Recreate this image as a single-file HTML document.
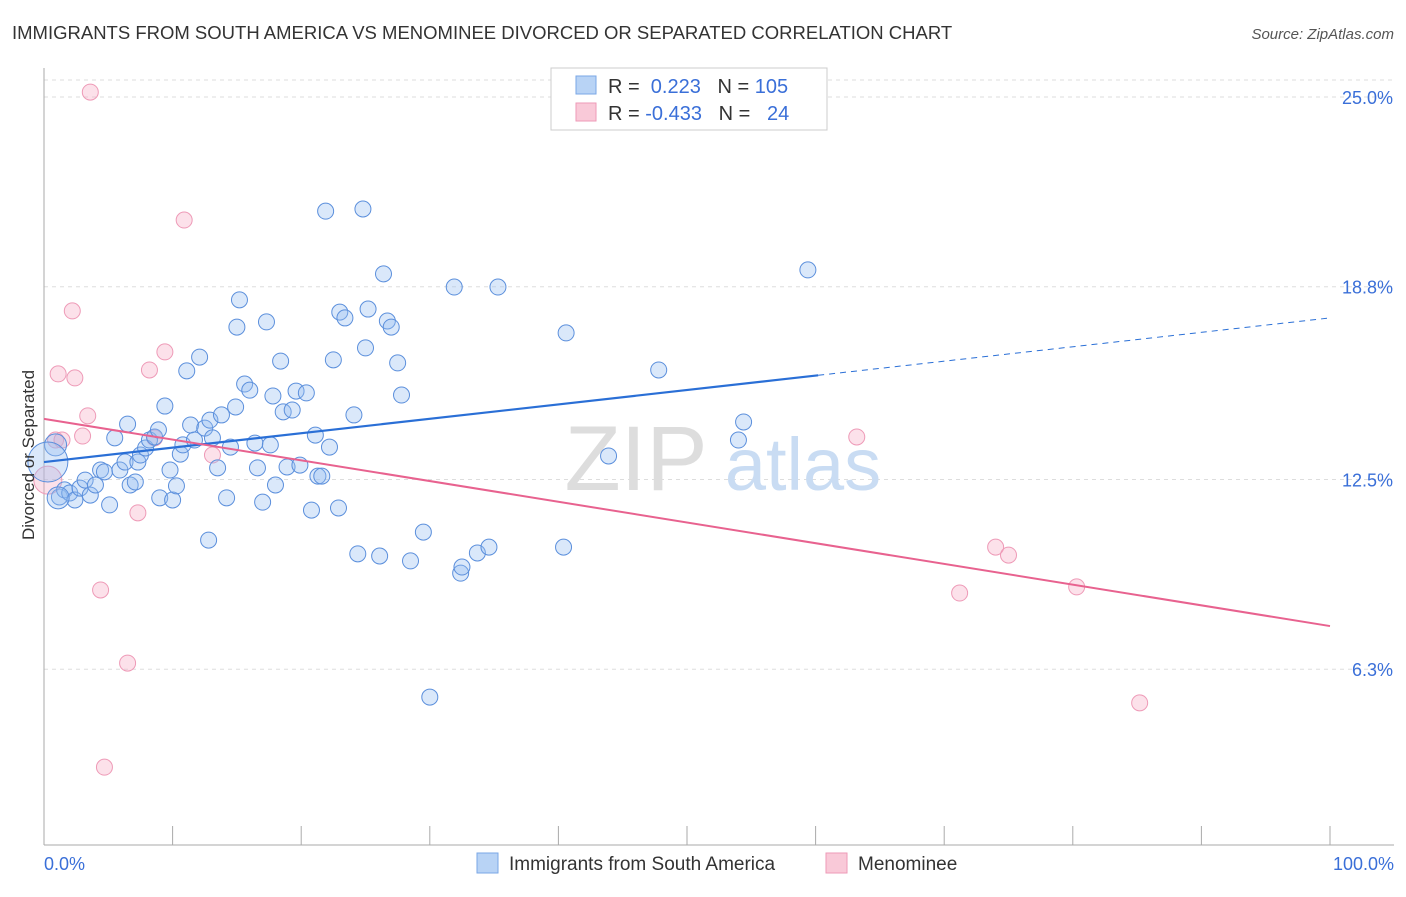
<!DOCTYPE html>
<html><head><meta charset="utf-8">
<style>
body{margin:0;background:#fff;font-family:"Liberation Sans",sans-serif;}
svg text{font-family:"Liberation Sans",sans-serif;}
</style></head>
<body>
<svg width="1406" height="892" xmlns="http://www.w3.org/2000/svg">
<text x="12" y="39" font-size="18.5" fill="#333">IMMIGRANTS FROM SOUTH AMERICA VS MENOMINEE DIVORCED OR SEPARATED CORRELATION CHART</text>
<text x="1394" y="39" font-size="15" fill="#555" text-anchor="end" font-style="italic">Source: ZipAtlas.com</text>
<g id="grid"></g>
<g id="wm">
<text x="636" y="490" font-size="92" fill="#ddd" text-anchor="middle" font-family="Liberation Serif">ZIP</text>
<text x="803" y="490" font-size="74" fill="#c9dcf3" text-anchor="middle">atlas</text>
</g>
<g id="axes"></g>
<g id="pts"></g>
<g id="lines"></g>
<text x="34" y="455" font-size="17" fill="#333" text-anchor="middle" transform="rotate(-90 34 455)">Divorced or Separated</text>
<text x="44" y="870" font-size="18" fill="#3a6fd8">0.0%</text>
<text x="1394" y="870" font-size="18" fill="#3a6fd8" text-anchor="end">100.0%</text>
<g>
<rect x="551" y="68" width="276" height="62" fill="#fff" stroke="#ccc"/>
<rect x="576" y="76" width="20" height="18" fill="#b8d3f5" stroke="#7aa7e6"/>
<rect x="576" y="103" width="20" height="18" fill="#f9c9d8" stroke="#ee9ab7"/>
<text x="608" y="93" font-size="20" fill="#333">R = <tspan fill="#3a6fd8">&#160;0.223</tspan>&#160;&#160;&#160;N = <tspan fill="#3a6fd8">105</tspan></text>
<text x="608" y="120" font-size="20" fill="#333">R = <tspan fill="#3a6fd8">-0.433</tspan>&#160;&#160;&#160;N = <tspan fill="#3a6fd8">&#160;&#160;24</tspan></text>
</g>
<g>
<rect x="477" y="853" width="21" height="20" fill="#b8d3f5" stroke="#7aa7e6"/>
<text x="509" y="870" font-size="19" fill="#333">Immigrants from South America</text>
<rect x="826" y="853" width="21" height="20" fill="#f9c9d8" stroke="#ee9ab7"/>
<text x="858" y="870" font-size="19" fill="#333">Menominee</text>
</g>
</svg>
<script>
const yTicks=[25.0,18.8,12.5,6.3];
const yTickLabels=["25.0%","18.8%","12.5%","6.3%"];
const blueX=[1.2,1.6,2.0,2.4,2.8,3.2,3.6,4.0,4.4,4.7,5.1,5.5,5.9,6.3,6.5,6.7,7.1,7.3,7.5,7.9,8.2,8.6,8.9,9.0,9.4,9.8,10.0,10.3,10.6,10.8,11.1,11.4,11.7,12.1,12.5,12.8,12.9,13.1,13.5,13.8,14.2,14.5,14.9,15.0,15.2,15.6,16.0,16.4,16.6,17.0,17.3,17.6,17.8,18.0,18.4,18.6,18.9,19.3,19.6,19.9,20.4,20.8,21.1,21.3,21.6,21.9,22.2,22.5,22.9,23.0,23.4,24.1,24.4,24.8,25.0,25.2,26.1,26.4,26.7,27.0,27.5,27.8,28.5,29.5,30.0,31.9,32.4,32.5,33.7,34.6,35.3,40.4,40.6,43.9,47.8,54.0,54.4,59.4,0.9,0.3,1.1];
const blueY=[11.93,12.16,12.06,11.83,12.22,12.48,11.99,12.32,12.81,12.75,11.67,13.86,12.81,13.07,14.31,12.32,12.42,13.07,13.30,13.53,13.79,13.89,14.12,11.90,14.90,12.81,11.83,12.29,13.33,13.63,16.05,14.28,13.79,16.50,14.18,10.52,14.44,13.86,12.88,14.61,11.90,13.56,14.87,17.48,18.37,15.62,15.42,13.69,12.88,11.76,17.65,13.63,15.23,12.32,16.37,14.71,12.91,14.77,15.39,12.97,15.33,11.50,13.95,12.61,12.61,21.27,13.56,16.41,11.57,17.97,17.78,14.61,10.07,21.34,16.80,18.07,10.00,19.22,17.68,17.48,16.31,15.26,9.84,10.78,5.39,18.79,9.44,9.64,10.10,10.29,18.79,10.29,17.29,13.27,16.08,13.79,14.38,19.35,13.63,13.07,11.90];
const pinkX=[3.6,10.9,2.2,1.1,2.4,8.2,9.4,3.4,3.0,0.9,1.4,13.1,8.6,7.3,4.4,6.5,4.7,63.2,74.0,75.0,71.2,80.3,85.2,0.3];
const pinkY=[25.16,20.98,18.01,15.95,15.82,16.08,16.67,14.58,13.92,13.79,13.79,13.30,13.86,11.41,8.89,6.50,3.10,13.89,10.29,10.03,8.79,8.99,5.20,12.48];
const blueTrend=[13.07,17.78];
const blueSolidEnd=60.2;
const pinkTrend=[14.48,7.71];

const NS="http://www.w3.org/2000/svg";
const X=v=>44+v*12.86;
const Y=v=>97+(25-v)*30.6;
function mk(tag,attrs,parent){const e=document.createElementNS(NS,tag);for(const k in attrs)e.setAttribute(k,attrs[k]);parent.appendChild(e);return e;}
const grid=document.getElementById('grid'),axes=document.getElementById('axes'),pts=document.getElementById('pts'),lines=document.getElementById('lines');
const gridTop=mk('line',{x1:44,x2:1394,y1:80,y2:80,stroke:'#ddd','stroke-dasharray':'4,4'},grid);


yTicks.forEach((t,i)=>{
  const l=mk('line',{x1:44,x2:1394,y1:Y(t),y2:Y(t),stroke:'#ddd','stroke-dasharray':'4,4'},grid);
  
  
  const tx=mk('text',{x:1393,y:Y(t)+7,'font-size':18,fill:'#3a6fd8','text-anchor':'end'},grid);
  tx.textContent=yTickLabels[i];
  
  
});
const ya=mk('line',{x1:44,x2:44,y1:68,y2:845,stroke:'#aaa'},axes);


const xa=mk('line',{x1:44,x2:1394,y1:845,y2:845,stroke:'#aaa'},axes);


for(let i=0;i<=10;i++){
  const t=mk('line',{x1:X(i*10),x2:X(i*10),y1:826,y2:845,stroke:'#aaa'},axes);
  
  
}
pinkX.forEach((x,i)=>{
  const c=mk('circle',{cx:X(x),cy:Y(pinkY[i]),r:i===pinkX.length-1?14:8,fill:'rgba(246,170,196,0.35)',stroke:'#ee9ab7','stroke-width':1},pts);
  
  
});
blueX.forEach((x,i)=>{
  const big=i>=blueX.length-3;
  const c=mk('circle',{cx:X(x),cy:Y(blueY[i]),r:big?(i===blueX.length-2?20:11):8,fill:'rgba(150,190,240,0.35)',stroke:'#5b8fdc','stroke-width':1},pts);
  
  
});
const bAt=x=>blueTrend[0]+(blueTrend[1]-blueTrend[0])*x/100;
const bl=mk('line',{x1:X(0),y1:Y(bAt(0)),x2:X(blueSolidEnd),y2:Y(bAt(blueSolidEnd)),stroke:'#2a6fd6','stroke-width':2.2},lines);


const bd=mk('line',{x1:X(blueSolidEnd),y1:Y(bAt(blueSolidEnd)),x2:X(100),y2:Y(bAt(100)),stroke:'#2a6fd6','stroke-width':1,'stroke-dasharray':'6,5'},lines);


const pl=mk('line',{x1:X(0),y1:Y(pinkTrend[0]),x2:X(100),y2:Y(pinkTrend[1]),stroke:'#e8628f','stroke-width':2},lines);


</script>
</body></html>
